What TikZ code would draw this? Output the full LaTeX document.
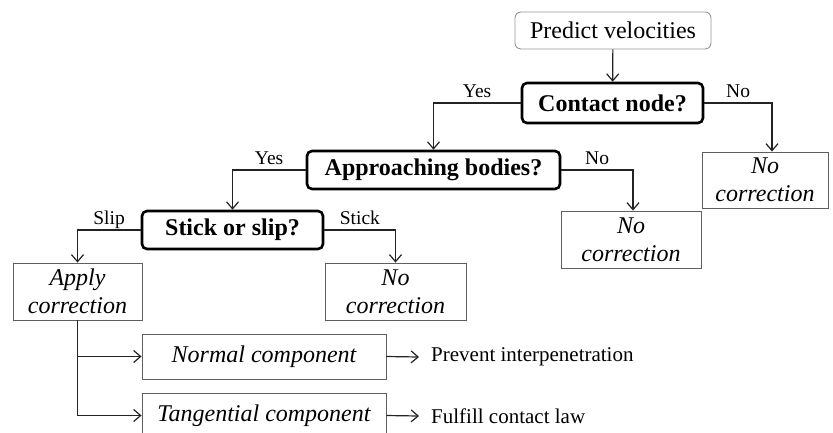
\documentclass[tikz,border=0pt]{standalone}
\usepackage{fontspec}
\setmainfont{Liberation Serif}[BoldFont={Liberation Serif Bold},
  ItalicFont={Liberation Serif Italic},BoldItalicFont={Liberation Serif Bold Italic}]
\usepackage{tikz}
\usetikzlibrary{arrows.meta,positioning,calc}
\definecolor{boxEdge}{RGB}{95,95,95}
\definecolor{startEdge}{RGB}{150,150,150}
\definecolor{flowInk}{RGB}{35,35,35}

\begin{document}
\begin{tikzpicture}[x=1pt,y=-1pt,
  decide/.style={draw=black,line width=2.6pt,rounded corners=5pt,
    font=\fontsize{24}{28}\selectfont\bfseries,inner sep=0pt},
  outcome/.style={draw=boxEdge,line width=0.9pt,align=center,
    font=\fontsize{24}{28}\selectfont\itshape,inner sep=0pt},
  flow/.style={draw=flowInk,line width=1.2pt,-{Straight Barb[length=7pt,width=12pt]}},
  answer/.style={font=\fontsize{19.5}{22}\selectfont,anchor=base,yshift=6pt,inner sep=0pt},
  effect/.style={font=\fontsize{21}{24}\selectfont,anchor=west,inner xsep=12pt,inner ysep=0pt}]
  \useasboundingbox (0,0) rectangle (833,432);
  % start
  \node[draw=startEdge,line width=0.9pt,rounded corners=6pt,inner sep=0pt,
    minimum width=196pt,minimum height=37pt,font=\fontsize{24}{28}\selectfont]
    (predict) at (613,30.5) {Predict velocities};
  % decisions
  \node[decide,minimum width=181pt,minimum height=40pt] (contact) at (612.5,103) {Contact node?};
  \node[decide,minimum width=253pt,minimum height=38pt] (approach) at (433.5,170) {Approaching bodies?};
  \node[decide,minimum width=181pt,minimum height=38pt] (stickslip) at (232.5,230) {Stick or slip?};
  % outcomes
  \node[outcome,minimum width=126pt,minimum height=56pt] (nocorrR) at (765,180) {No\\correction};
  \node[outcome,minimum width=140pt,minimum height=57pt] (nocorrM) at (631,239.5) {No\\correction};
  \node[outcome,minimum width=141pt,minimum height=57pt] (nocorrL) at (395.5,291.5) {No\\correction};
  \node[outcome,minimum width=129pt,minimum height=57pt] (apply) at (77.5,291.5) {Apply\\correction};
  % components
  \node[outcome,minimum width=244pt,minimum height=45pt] (normal) at (264,356.5) {Normal component};
  \node[outcome,minimum width=244pt,minimum height=45pt] (tangent) at (264,415.5) {Tangential component};
  \node[effect] (prevent) at (419,357) {Prevent interpenetration};
  \node[effect] (fulfill) at (419,416) {Fulfill contact law};
  % connectors
  \draw[flow] (predict) -- (contact);
  \draw[flow] (contact.west) -| node[answer,pos=0.25] {Yes} (approach.north);
  \draw[flow] (contact.east) -| node[answer,pos=0.25] {No} ([xshift=7pt]nocorrR.north);
  \draw[flow] (approach.west) -| node[answer,pos=0.25] {Yes} (stickslip.north);
  \draw[flow] (approach.east) -| node[answer,pos=0.25] {No} ([xshift=2pt]nocorrM.north);
  \draw[flow] (stickslip.west) -| node[answer,pos=0.25] {Slip} (apply.north);
  \draw[flow] (stickslip.east) -| node[answer,pos=0.25] {Stick} (nocorrL.north);
  \draw[flow] (apply.south) |- (tangent.west);
  \draw[flow] (apply.south |- normal.west) -- (normal.west);
  \draw[flow] (normal.east) -- (prevent.west);
  \draw[flow] (tangent.east) -- (fulfill.west);
\end{tikzpicture}
\end{document}
